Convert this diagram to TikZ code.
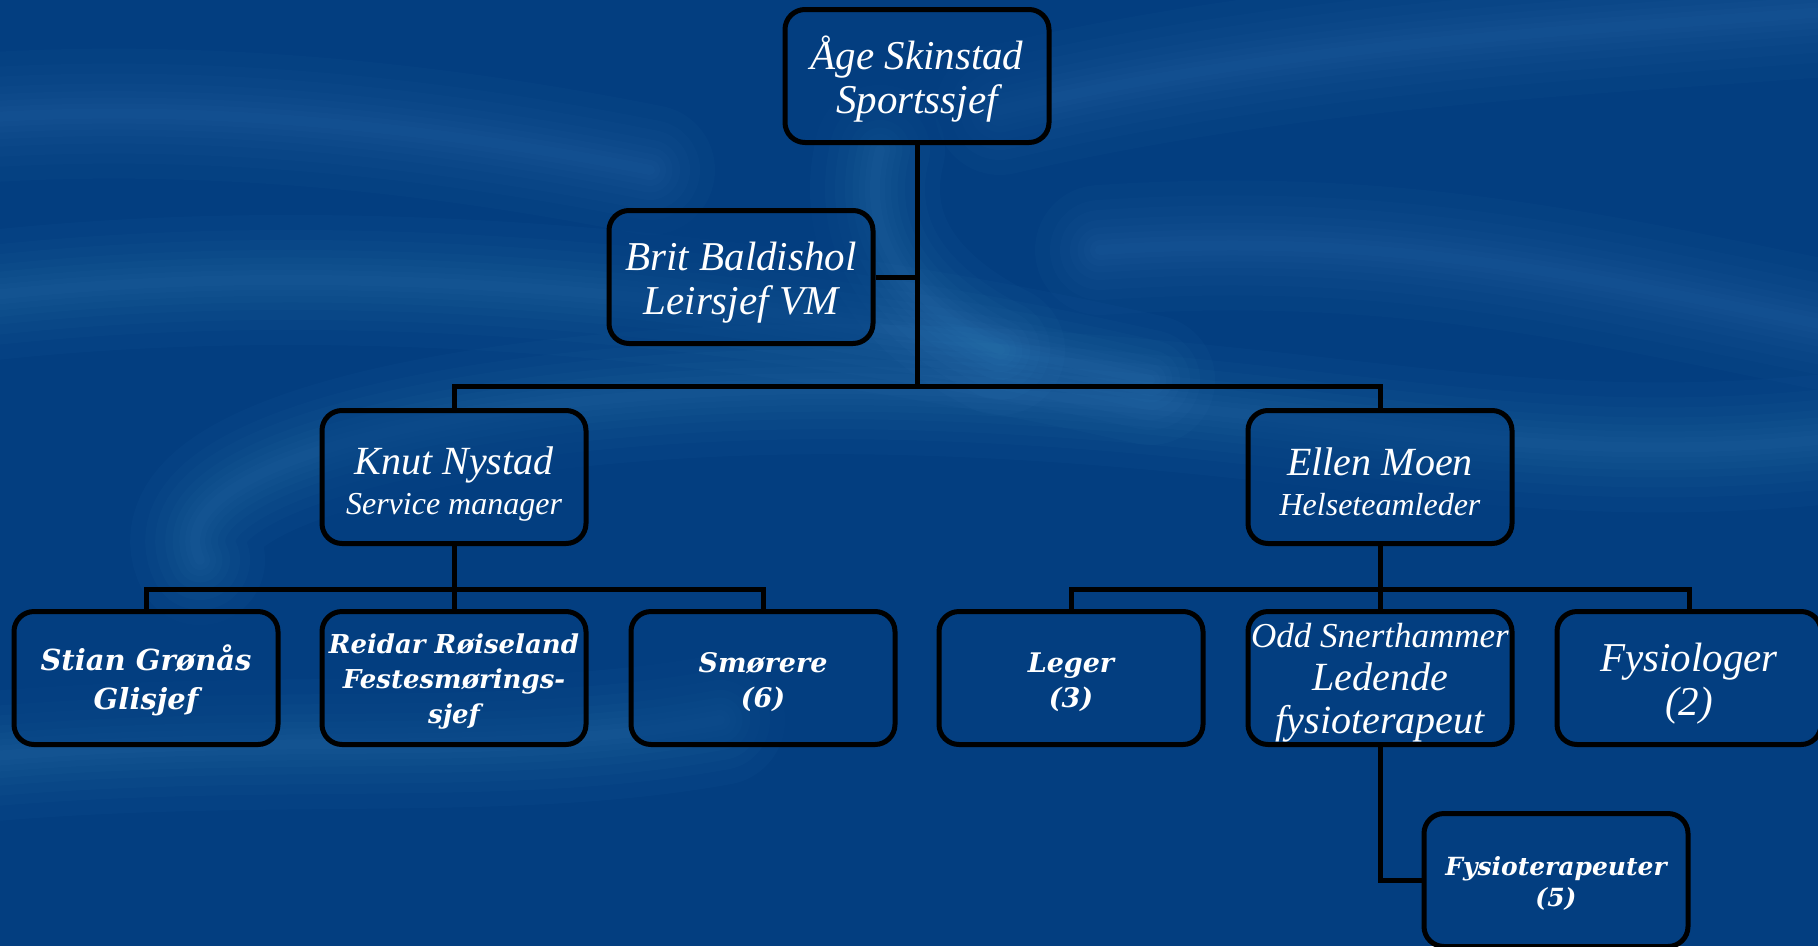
\documentclass[tikz,border=0pt]{standalone}
\usepackage{fontspec}
\setmainfont{Liberation Serif}
\newfontfamily\heavyfont{DejaVu Serif}
\definecolor{bgblue}{RGB}{3,62,128}
\definecolor{swirl}{RGB}{80,160,215}
\newcommand{\lowr}[1]{\rule{0pt}{#1}}
\begin{document}
\begin{tikzpicture}[x=1pt,y=-1pt,
  box/.style={draw=black, line width=5pt, rounded corners=20pt,
    minimum width=264pt, minimum height=133pt, inner sep=0pt,
    fill=bgblue, fill opacity=0.45, text opacity=1, text=white, align=center},
  bigt/.style={font=\fontsize{41}{44}\selectfont\itshape},
  conn/.style={draw=black, line width=5pt},
  sw/.style={swirl, line cap=round}]
\useasboundingbox (0,0) rectangle (1818,946);
\fill[bgblue] (0,0) rectangle (1818,946);
% background swirls
\begin{scope}
\clip (0,0) rectangle (1818,946);
\foreach \w in {130,100,80,60,45,32,20,10} {
  \draw[sw, line width=\w pt, opacity=0.035]
    (-50,300) .. controls (350,250) and (800,300) .. (1150,380);
  \draw[sw, line width=\w pt, opacity=0.035]
    (200,560) .. controls (150,460) and (500,380) .. (900,390)
    .. controls (1300,400) and (1500,470) .. (1818,440);
  \draw[sw, line width=\w pt, opacity=0.035]
    (-50,760) .. controls (250,730) and (500,760) .. (720,720);
  \draw[sw, line width=\w pt, opacity=0.03]
    (1000,110) .. controls (1300,40) and (1600,30) .. (1850,10);
  \draw[sw, line width=\w pt, opacity=0.03]
    (1100,250) .. controls (1400,230) and (1600,280) .. (1850,330);
  \draw[sw, line width=\w pt, opacity=0.035]
    (880,150) .. controls (860,230) and (900,300) .. (1000,350);
  \draw[sw, line width=\w pt, opacity=0.03]
    (-50,120) .. controls (200,100) and (450,130) .. (650,170);
}
\end{scope}
% nodes
\node[box, bigt] (top) at (917,76) {\lowr{40pt}Åge Skinstad\\Sportssjef};
\node[box, bigt] (brit) at (741,277) {\lowr{39pt}Brit Baldishol\\Leirsjef VM};
\node[box, font=\fontsize{40}{40}\selectfont\itshape] (knut) at (454,477) {\lowr{42pt}Knut Nystad\\{\fontsize{32}{36}\selectfont Service manager}};
\node[box, font=\fontsize{40}{40}\selectfont\itshape] (ellen) at (1380,477) {\lowr{38pt}Ellen Moen\\{\fontsize{32}{36}\selectfont Helseteamleder}};
\node[box, font=\heavyfont\fontsize{29}{39}\selectfont\bfseries\itshape] (stian) at (146,678) {\lowr{30pt}Stian Grønås\\Glisjef};
\node[box, font=\heavyfont\fontsize{26}{35}\selectfont\bfseries\itshape] (reidar) at (454,678) {\lowr{27pt}Reidar Røiseland\\Festesmørings-\\sjef};
\node[box, font=\heavyfont\fontsize{27}{35}\selectfont\bfseries\itshape] (smor) at (763,678) {\lowr{29pt}Smørere\\(6)};
\node[box, font=\heavyfont\fontsize{27}{35}\selectfont\bfseries\itshape] (leger) at (1071,678) {\lowr{29pt}Leger\\(3)};
\node[box, font=\fontsize{40}{43}\selectfont\itshape] (odd) at (1380,678) {{\fontsize{35}{40}\selectfont\lowr{33pt}Odd Snerthammer}\\Ledende\\fysioterapeut};
\node[box, bigt] (fysiol) at (1689,678) {\lowr{40pt}Fysiologer\\(2)};
\node[box, font=\heavyfont\fontsize{25}{31}\selectfont\bfseries\itshape] (fyst) at (1556,880) {\lowr{25pt}Fysioterapeuter\\(5)};
% connectors
\coordinate (bus1) at (917,386);
\coordinate (bus2) at (454,589);
\coordinate (bus3) at (1380,589);
\draw[conn] (top.south) -- (bus1);
\draw[conn] (brit.east) -- (brit.east -| top.south);
\draw[conn] (knut.north) |- (bus1) -| (ellen.north);
\draw[conn] (knut.south) -- (bus2);
\draw[conn] (stian.north) |- (bus2) -| (smor.north);
\draw[conn] (reidar.north) -- (bus2);
\draw[conn] (ellen.south) -- (bus3);
\draw[conn] (leger.north) |- (bus3) -| (fysiol.north);
\draw[conn] (odd.north) -- (bus3);
\draw[conn] (odd.south) |- (fyst.west);
\end{tikzpicture}
\end{document}
